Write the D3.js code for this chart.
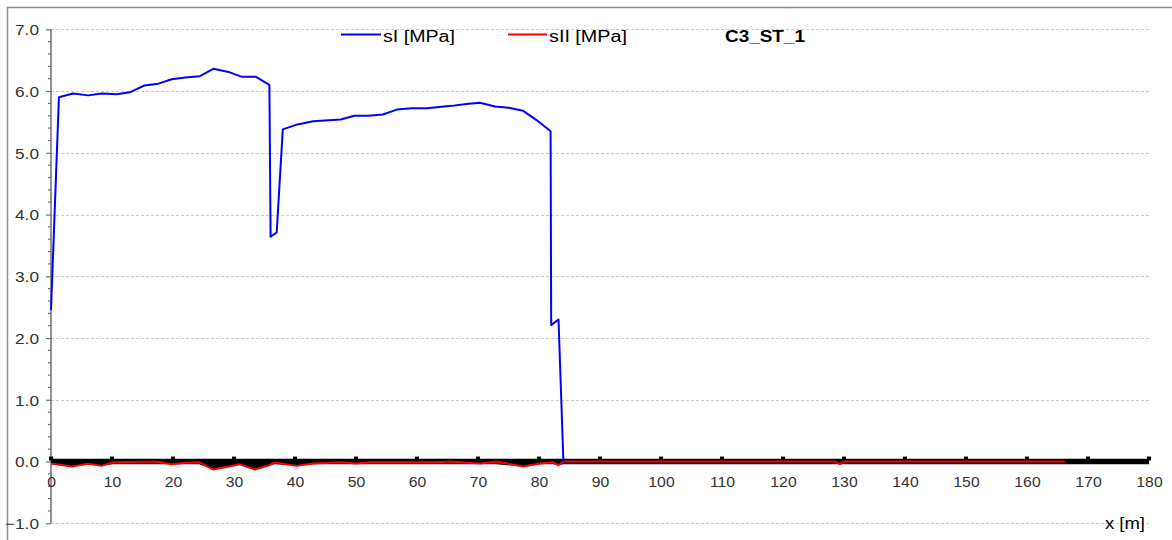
<!DOCTYPE html>
<html><head><meta charset="utf-8">
<script src="https://cdn.jsdelivr.net/npm/d3@7"></script>
<style>body{margin:0;background:#fff}svg{display:block;font-family:"Liberation Sans",Arial,sans-serif}</style>
</head><body><svg id="c" width="1172" height="540"></svg>
<script>
const sIx = [0,1.3,3.6,6.1,8.3,10.8,12.9,15.3,17.6,19.8,22,24.4,26.6,29.1,31.3,33.6,35.8,36.0,37.0,38.0,40.4,43.0,47.5,49.7,52.0,54.4,56.7,59.1,61.6,65.7,68.1,70.3,72.8,75.0,77.4,79.6,81.9,82.0,83.2,84.0];
const sIy = [2.45,5.90,5.96,5.93,5.96,5.95,5.98,6.09,6.12,6.19,6.22,6.24,6.36,6.31,6.23,6.23,6.10,3.64,3.71,5.38,5.46,5.51,5.54,5.60,5.60,5.62,5.70,5.72,5.72,5.76,5.79,5.81,5.75,5.73,5.68,5.53,5.35,2.21,2.30,0.0];
const sIIx = [0,3.4,6.1,8.3,10.2,17.3,19.7,22.2,24.3,26.6,31.0,33.4,35.8,36.7,40.3,43.0,47.4,50.1,52.3,63.2,65.4,70.3,73.0,77.4,80.2,82.3,83.2,84.0,128.6,129.3,130.0,166.2];
const sIIy = [-0.03,-0.08,-0.035,-0.07,-0.01,0,-0.045,-0.02,-0.01,-0.13,-0.045,-0.13,-0.06,-0.015,-0.07,-0.03,-0.01,-0.03,-0.01,-0.01,0,-0.03,0,-0.08,-0.03,-0.01,-0.06,0,0,-0.04,0,0];
const xTicks = [0,10,20,30,40,50,60,70,80,90,100,110,120,130,140,150,160,170,180];
const yTicks = [-1,0,1,2,3,4,5,6,7];
const seriesNames = ["sI [MPa]","sII [MPa]"];
const chartTitle = "C3_ST_1";
const xLabel = "x [m]";

const svg = d3.select("#c");
const x = d3.scaleLinear().domain([0,180]).range([51,1149]);
const y = d3.scaleLinear().domain([-1,7]).range([523.3,29.3]);
const widen = (sel, k) => sel.each(function(){ const w=this.getComputedTextLength(); d3.select(this).attr("textLength",w*k).attr("lengthAdjust","spacingAndGlyphs"); });

// outer border
svg.append("path").attr("d","M7.5,545 V7.5 H1180").attr("fill","none").attr("stroke","#8c8c8c").attr("stroke-width",1.5);

// grid
svg.append("g").selectAll("line").data(yTicks).join("line")
  .attr("x1",x(0)).attr("x2",x(180)).attr("y1",d=>Math.round(y(d))+0.5).attr("y2",d=>Math.round(y(d))+0.5)
  .attr("stroke","#c8c8c8").attr("stroke-dasharray","3,2").attr("stroke-width",1);

// y axis
const yAxis = d3.axisLeft(y).tickValues(yTicks).tickFormat(d3.format(".1f")).tickSize(5).tickPadding(7);
const ga = svg.append("g").attr("transform","translate(51,0)").call(yAxis);
ga.select(".domain").attr("stroke","#707070").attr("stroke-width",1.5).attr("d",`M0,${y(7)}V${y(-1)}`);
ga.selectAll(".tick line").attr("stroke","#707070").attr("stroke-width",1.2);
ga.selectAll(".tick text").attr("font-size",15).attr("fill","#333").attr("font-family","Liberation Sans, Arial, sans-serif").attr("dy","0.35em").call(widen,1.15);
const minor = d3.range(-1,7.001,0.2).filter(v=>Math.abs(v-Math.round(v))>1e-6);
svg.append("g").selectAll("line").data(minor).join("line")
  .attr("x1",48).attr("x2",51).attr("y1",d=>y(d)).attr("y2",d=>y(d)).attr("stroke","#707070").attr("stroke-width",1.2);

// x axis labels
const xAxis = d3.axisBottom(x).tickValues(xTicks).tickFormat(d3.format("d")).tickSize(0).tickPadding(0);
const gx = svg.append("g").attr("transform",`translate(0,${y(0)})`).call(xAxis);
gx.select(".domain").remove();
gx.selectAll(".tick text").attr("font-size",15).attr("fill","#333").attr("font-family","Liberation Sans, Arial, sans-serif").attr("y",25).attr("dy",0).call(widen,1.05);

// black band following sII dips
const band = sIIx.map((v,i)=>({x:v,y:sIIy[i]})).concat([{x:180,y:0}]);
svg.append("path").datum(band)
  .attr("d",d3.area().x(d=>x(d.x)).y0(y(0.045)).y1(d=>y(Math.min(d.y,-0.045))))
  .attr("fill","#000");
// tick squares
svg.append("g").selectAll("rect").data(xTicks).join("rect")
  .attr("x",d=>x(d)-2).attr("y",y(0)-5).attr("width",4).attr("height",4).attr("fill","#000");

const line = d3.line().x(d=>x(d[0])).y(d=>y(d[1]));
svg.append("path").datum(sIIx.map((v,i)=>[v,sIIy[i]])).attr("d",line)
  .attr("fill","none").attr("stroke","#ff0000").attr("stroke-width",2).attr("stroke-linejoin","round");
svg.append("path").datum(sIx.map((v,i)=>[v,sIy[i]])).attr("d",line)
  .attr("fill","none").attr("stroke","#0000ff").attr("stroke-width",2).attr("stroke-linejoin","round");

// legend
const lg = svg.append("g").attr("font-size",16).attr("fill","#000");
lg.append("line").attr("x1",341).attr("x2",381).attr("y1",34.5).attr("y2",34.5).attr("stroke","#0000ff").attr("stroke-width",2);
lg.append("text").attr("x",383).attr("y",41.5).attr("textLength",72).attr("lengthAdjust","spacingAndGlyphs").text(seriesNames[0]);
lg.append("line").attr("x1",508).attr("x2",547).attr("y1",34.5).attr("y2",34.5).attr("stroke","#ff0000").attr("stroke-width",2);
lg.append("text").attr("x",549).attr("y",41.5).attr("textLength",78).attr("lengthAdjust","spacingAndGlyphs").text(seriesNames[1]);
lg.append("text").attr("x",725).attr("y",41.5).attr("font-weight","bold").attr("textLength",80).attr("lengthAdjust","spacingAndGlyphs").text(chartTitle);

svg.append("text").attr("x",1105).attr("y",529).attr("font-size",16).attr("fill","#000").attr("textLength",40).attr("lengthAdjust","spacingAndGlyphs").text(xLabel);
</script></body></html>
